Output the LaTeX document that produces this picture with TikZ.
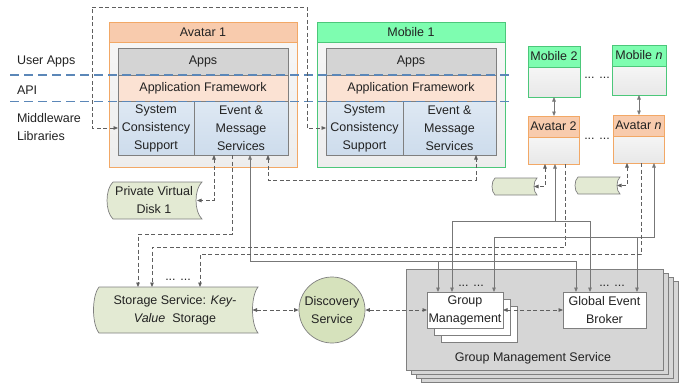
\documentclass[tikz,border=0pt]{standalone}
\usepackage{fontspec}
\setmainfont{Liberation Sans}
\usetikzlibrary{arrows.meta,calc}
\definecolor{txtc}{HTML}{222222}
\definecolor{avb}{HTML}{F2A866}
\definecolor{avh}{HTML}{F8CBAD}
\definecolor{mobb}{HTML}{4CC77A}
\definecolor{mobh}{HTML}{7EFDB0}
\definecolor{appsf}{HTML}{D4D4D4}
\definecolor{grayb}{HTML}{7F7F7F}
\definecolor{aff}{HTML}{FBE2D3}
\definecolor{mwt}{HTML}{DEE8F3}
\definecolor{mwb}{HTML}{CDDCEC}
\definecolor{bluel}{HTML}{5B87B8}
\definecolor{diskf}{HTML}{E3EAD3}
\definecolor{discf}{HTML}{D6E2BC}
\definecolor{gmsf}{HTML}{D6D6D6}
\definecolor{linec}{HTML}{777777}
\definecolor{dashc}{HTML}{5F5F5F}
\newcommand\fsz{\fontsize{12.5pt}{18pt}\selectfont}
\newcommand\sdshape[5]{\draw[sdst] (#1,#2) -- (#3,#2) .. controls ({#3-1.33*#5},{#2+0.2*(#4-#2)}) and ({#3-1.33*#5},{#4-0.2*(#4-#2)}) .. (#3,#4) -- (#1,#4) .. controls ({#1-1.33*#5},{#4-0.2*(#4-#2)}) and ({#1-1.33*#5},{#2+0.2*(#4-#2)}) .. cycle;}
\begin{document}
\begin{tikzpicture}[x=1pt,y=-1pt,font=\fsz,text=txtc,
  bx/.style={anchor=north west,inner sep=0pt,outer sep=0pt,align=center},
  body/.style={bx,top color=white,bottom color=black!9},
  obody/.style={bx,top color=black!3,bottom color=black!7},
  apps/.style={bx,draw=grayb,fill=appsf},
  afw/.style={bx,draw=grayb,fill=aff},
  mw/.style={bx,draw=grayb,top color=mwt,bottom color=mwb},
  sdst/.style={draw=grayb,fill=diskf,line width=0.7pt},
  tip/.tip={Triangle[length=4.5pt,width=3.6pt]},
  sl/.style={draw=linec,line width=0.8pt},
  dl/.style={draw=dashc,line width=0.8pt,dash pattern=on 4pt off 2.5pt},
  bl/.style={draw=bluel,line width=1.1pt,dash pattern=on 9pt off 5pt},
  lbl/.style={inner sep=0pt,outer sep=0pt,align=center},
  dots/.style={inner sep=0pt,anchor=base}]
\useasboundingbox (0,0) rectangle (688,383);

% ---- left labels
\node[lbl,anchor=west] (lua) at (17,61) {User Apps};
\node[lbl,anchor=west] (lapi) at (17,90) {API};
\node[lbl,anchor=west,align=left] (lmw) at (17,127) {Middleware\\Libraries};

% ---- Avatar 1
\node[obody,draw=avb,line width=0.8pt,minimum width=188pt,minimum height=145pt] (a1) at (109,22) {};
\node[bx,draw=avb,fill=avh,line width=0.8pt,minimum width=188pt,minimum height=20pt] (a1h) at (109,22) {Avatar 1};
\node[apps,minimum width=170pt,minimum height=27pt] (a1apps) at (118,48) {Apps};
\node[afw,minimum width=170pt,minimum height=26pt] (a1af) at (118,75) {Application Framework};
\node[mw,minimum width=76pt,minimum height=54pt] (a1scs) at (118,101) {System\\Consistency\\Support};
\node[mw,minimum width=94pt,minimum height=54pt] (a1ems) at (194,101) {Event \&\\Message\\Services};

% ---- Mobile 1
\node[obody,draw=mobb,line width=0.8pt,minimum width=188pt,minimum height=145pt] (m1) at (317,22) {};
\node[bx,draw=mobb,fill=mobh,line width=0.8pt,minimum width=188pt,minimum height=20pt] (m1h) at (317,22) {Mobile 1};
\node[apps,minimum width=170pt,minimum height=27pt] (m1apps) at (326,48) {Apps};
\node[afw,minimum width=170pt,minimum height=26pt] (m1af) at (326,75) {Application Framework};
\node[mw,minimum width=77pt,minimum height=54pt] (m1scs) at (326,101) {System\\Consistency\\Support};
\node[mw,minimum width=93pt,minimum height=54pt] (m1ems) at (403,101) {Event \&\\Message\\Services};

% ---- Mobile 2 / n, Avatar 2 / n
\node[body,draw=mobb,line width=0.8pt,minimum width=52pt,minimum height=51pt] (m2) at (528,46) {};
\node[bx,draw=mobb,fill=mobh,line width=0.8pt,minimum width=52pt,minimum height=21pt] (m2h) at (528,46) {Mobile 2};
\node[body,draw=mobb,line width=0.8pt,minimum width=54pt,minimum height=50pt] (mn) at (612,45) {};
\node[bx,draw=mobb,fill=mobh,line width=0.8pt,minimum width=54pt,minimum height=21pt] (mnh) at (612,45) {Mobile \textit{n}};
\node[body,draw=avb,line width=0.8pt,minimum width=51pt,minimum height=48pt] (av2) at (528,116) {};
\node[bx,draw=avb,fill=avh,line width=0.8pt,minimum width=51pt,minimum height=21pt] (av2h) at (528,116) {Avatar 2};
\node[body,draw=avb,line width=0.8pt,minimum width=51pt,minimum height=48pt] (avn) at (613,115) {};
\node[bx,draw=avb,fill=avh,line width=0.8pt,minimum width=51pt,minimum height=21pt] (avnh) at (613,115) {Avatar \textit{n}};
\node[dots] (dm) at (597,78) {... ...};
\node[dots] (da) at (597,139) {... ...};

% ---- stored-data shapes
\sdshape{113}{182}{202}{219}{6}
\node[lbl,minimum width=86pt,minimum height=37pt] (pvd) at (154,200.5) {Private Virtual\\Disk 1};
\sdshape{495}{178}{537}{195}{3}
\node[lbl,minimum width=40pt,minimum height=17pt] (d2) at (514,186.5) {};
\sdshape{578}{177}{620}{194}{3}
\node[lbl,minimum width=40pt,minimum height=17pt] (dn) at (597,185.5) {};
\sdshape{99}{287}{258}{333}{5.5}
\node[lbl,minimum width=155pt,minimum height=46pt] (stor) at (175,310) {Storage Service: \textit{Key-}\\\textit{Value}\ \ Storage};
\node[dots] (ds) at (178,280) {... ...};

% ---- Discovery
\node[circle,draw=grayb,fill=discf,line width=0.7pt,minimum size=66pt,inner sep=0pt,align=center] (disc) at (332,310) {Discovery\\Service};

% ---- Group Management Service stack
\foreach \k in {3,2,1}{
  \node[bx,draw=grayb,fill=gmsf,line width=0.7pt,minimum width=257pt,minimum height=101pt] (gmsb\k) at ({406+5*\k},{269+4*\k}) {};
}
\node[bx,draw=grayb,fill=gmsf,line width=0.7pt,minimum width=257pt,minimum height=101pt] (gms) at (406,269) {};
\node[lbl] (gmsl) at (533,358) {Group Management Service};
\node[bx,draw=grayb,fill=white,line width=0.7pt,minimum width=76pt,minimum height=36pt] (gmb2) at (441,306) {};
\node[bx,draw=grayb,fill=white,line width=0.7pt,minimum width=76pt,minimum height=36pt] (gmb1) at (434,299) {};
\node[bx,draw=grayb,fill=white,line width=0.7pt,minimum width=76pt,minimum height=36pt] (gm) at (427,292) {Group\\Management};
\node[bx,draw=grayb,fill=white,line width=0.7pt,minimum width=83pt,minimum height=36pt] (geb) at (563,292) {Global Event\\Broker};
\node[dots] (dgm) at (471,286) {... ...};
\node[dots] (dgeb) at (612,286) {... ...};

% ---- layer separators
\draw[bl] (10,75) -- (513,75);
\draw[bl] (10,101.5) -- (513,101.5);

% ---- connectors
\draw[dl,tip-tip] (a1scs.west) -| (92,7) -| (307,128) -- (m1scs.west);
\draw[dl,tip-tip] ([xshift=-27pt]a1ems.south) |- (pvd.east);
\draw[dl,-tip] ([xshift=-9pt]a1ems.south) -- ++(0,79) -| ([xshift=-37pt]stor.north);
\draw[sl,tip-tip] ([xshift=9pt]a1ems.south) -- ++(0,106) -| ([xshift=-28.5pt]geb.north);
\coordinate (j1) at (438,261);
\draw[sl,-tip] (j1) -- ([xshift=-27pt]gm.north);
\draw[dl,tip-tip] ([xshift=27pt]a1ems.south) -- ++(0,25) -| ([xshift=26.5pt]m1ems.south);

\draw[sl,tip-tip] (m2.south) -- (m2.south |- av2h.north);
\draw[sl,tip-tip] (mn.south) -- (mn.south |- avnh.north);

\draw[dl,tip-tip] ([xshift=-8.5pt]av2.south) |- (d2.east);
\draw[sl,tip-tip] ([xshift=1.5pt]av2.south) -- ++(0,57) coordinate (j2) -| ([xshift=-13pt]gm.north);
\draw[sl,-tip] (j2) -| ([xshift=-14.5pt]geb.north);
\draw[dl,-tip] ([xshift=11.5pt]av2.south) -- ++(0,83) -| ([xshift=-23pt]stor.north);

\draw[dl,tip-tip] ([xshift=-11.5pt]avn.south) |- (dn.east);
\draw[sl,tip-tip] ([xshift=15.5pt]avn.south) -- ++(0,74) coordinate (j3) -| ([xshift=29pt]gm.north);
\draw[sl,-tip] ([xshift=-17pt]j3) -- ++(0,55);
\draw[dl,-tip] ([xshift=2.5pt]avn.south) -- ++(0,91) -| ([xshift=25pt]stor.north);

\draw[dl,tip-tip] (stor.east) -- (disc.west);
\draw[dl,tip-tip] (disc.east) -- (gm.west);
\draw[dl,tip-tip] (gm.east) -- (geb.west);
\end{tikzpicture}
\end{document}
